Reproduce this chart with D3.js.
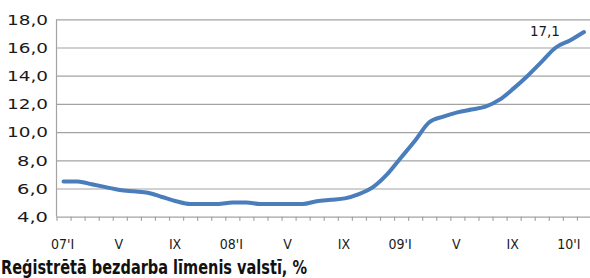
<!DOCTYPE html>
<html>
<head>
<meta charset="utf-8">
<script src="https://cdn.jsdelivr.net/npm/d3@7"></script>
<style>
  body { margin: 0; background: #fff; overflow: hidden; }
  svg { display: block; }
</style>
</head>
<body>
<div id="chart"></div>
<script>
var svgWidth = 590;
var svgHeight = 278;

// months Jan 2007 .. Feb 2010
var months = ["2007-01","2007-02","2007-03","2007-04","2007-05","2007-06","2007-07","2007-08","2007-09","2007-10","2007-11","2007-12",
  "2008-01","2008-02","2008-03","2008-04","2008-05","2008-06","2008-07","2008-08","2008-09","2008-10","2008-11","2008-12",
  "2009-01","2009-02","2009-03","2009-04","2009-05","2009-06","2009-07","2009-08","2009-09","2009-10","2009-11","2009-12",
  "2010-01","2010-02"];
var rates = [6.5, 6.5, 6.3, 6.1, 5.9, 5.8, 5.7, 5.4, 5.1, 4.9, 4.9, 4.9,
  5.0, 5.0, 4.9, 4.9, 4.9, 4.9, 5.1, 5.2, 5.3, 5.6, 6.1, 7.0,
  8.2, 9.4, 10.7, 11.1, 11.4, 11.6, 11.8, 12.3, 13.1, 14.0, 15.0, 16.0,
  16.5, 17.1];
var tickLabels = ["07'I", "V", "IX", "08'I", "V", "IX", "09'I", "V", "IX", "10'I"];
var yTicks = [4, 6, 8, 10, 12, 14, 16, 18];
var title = "Reģistrētā bezdarba līmenis valstī, %";

var plot = { left: 56.5, right: 591, top: 19.3, bottom: 216.7 };
var gridColor = "#a3a3a3";
var lineColor = "#4a7dbb";

var svg = d3.select("#chart")
  .append("svg")
  .attr("width", svgWidth)
  .attr("height", svgHeight);

var xBand = d3.scaleBand()
  .domain(months)
  .range([plot.left, plot.right]);

var xEdge = d3.scaleLinear()
  .domain([0, months.length])
  .range([plot.left, plot.right]);

var y = d3.scaleLinear()
  .domain([4, 18])
  .range([plot.bottom, plot.top]);

var fmt = d => d.toFixed(1).replace(".", ",");

// gridlines + y labels
var leftAxis = d3.axisLeft(y)
  .tickValues(yTicks)
  .tickSize(-(plot.right - plot.left))
  .tickPadding(8)
  .tickFormat(fmt);

var yAxis = svg.append("g")
  .attr("transform", `translate(${plot.left},0)`)
  .call(leftAxis);

yAxis.select(".domain").remove();
yAxis.selectAll(".tick line")
  .attr("stroke", gridColor)
  .attr("stroke-width", 1.2);
yAxis.selectAll(".tick text")
  .attr("x", -8.5)
  .attr("dy", "0.36em")
  .attr("fill", "#1a1a1a")
  .attr("textLength", d => fmt(d).length === 4 ? 41 : 31)
  .attr("lengthAdjust", "spacingAndGlyphs")
  .style("font-family", "'DejaVu Sans', Verdana, sans-serif")
  .style("font-size", "13.5px");

// vertical axis line
svg.append("line")
  .attr("x1", plot.left).attr("x2", plot.left)
  .attr("y1", plot.top).attr("y2", plot.bottom)
  .attr("stroke", gridColor)
  .attr("stroke-width", 1.2);

// category tick marks at band edges
var bottomAxis = d3.axisBottom(xEdge)
  .tickValues(d3.range(months.length + 1))
  .tickSize(4)
  .tickFormat("");

var xAxis = svg.append("g")
  .attr("transform", `translate(0,${plot.bottom})`)
  .call(bottomAxis);
xAxis.select(".domain").remove();
xAxis.selectAll(".tick line")
  .attr("stroke", gridColor)
  .attr("stroke-width", 1.2);

// x labels every 4th month
svg.append("g")
  .selectAll("text")
  .data(tickLabels)
  .enter()
  .append("text")
  .attr("x", (d, i) => xBand(months[i * 4]) + xBand.bandwidth() / 2 - 1)
  .attr("y", 249.3)
  .attr("text-anchor", "middle")
  .attr("fill", "#1a1a1a")
  .style("font-family", "'DejaVu Sans Condensed', 'Liberation Sans Narrow', sans-serif")
  .style("font-size", "14px")
  .text(d => d);

// the line
var line = d3.line()
  .x((d, i) => xBand(months[i]) + xBand.bandwidth() / 2)
  .y(d => y(d))
  .curve(d3.curveMonotoneX);

svg.append("path")
  .datum(rates)
  .attr("d", line)
  .attr("fill", "none")
  .attr("stroke", lineColor)
  .attr("stroke-width", 4)
  .attr("stroke-linejoin", "round")
  .attr("stroke-linecap", "round");

// last value label
var last = rates.length - 1;
svg.append("text")
  .attr("x", xBand(months[last]) + xBand.bandwidth() / 2 - 24)
  .attr("y", y(rates[last]) + 4)
  .attr("text-anchor", "end")
  .attr("fill", "#1a1a1a")
  .style("font-family", "'DejaVu Sans', Verdana, sans-serif")
  .style("font-size", "13.5px")
  .text(fmt(rates[last]));

// title
svg.append("text")
  .attr("x", 1)
  .attr("y", 274)
  .attr("textLength", 306)
  .attr("lengthAdjust", "spacingAndGlyphs")
  .attr("fill", "#111")
  .style("font-family", "'Liberation Sans Narrow', 'DejaVu Sans Condensed', sans-serif")
  .style("font-weight", "bold")
  .style("font-size", "20px")
  .text(title);
</script>
</body>
</html>
